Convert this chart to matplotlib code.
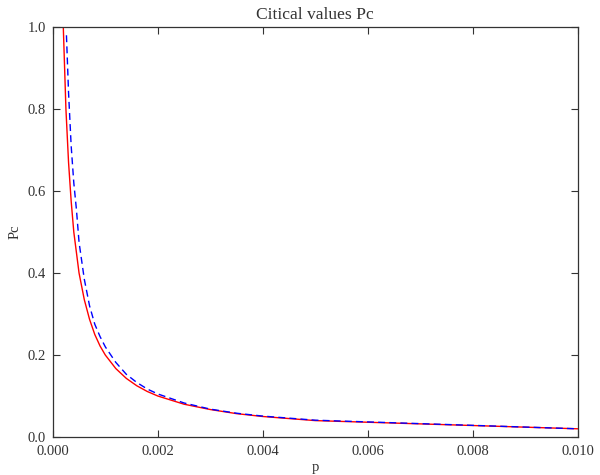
import numpy as np
import matplotlib
matplotlib.use("Agg")
import matplotlib.pyplot as plt
from matplotlib.ticker import FormatStrFormatter

# valores
p_rojo = [0.0002, 0.00025, 0.0003, 0.00035, 0.0004, 0.0005, 0.0006, 0.0007,
          0.0008, 0.0009, 0.001, 0.0012, 0.0014, 0.0016, 0.0018, 0.002,
          0.0025, 0.003, 0.0035, 0.004, 0.005, 0.01]
pc_rojo = [1.0, 0.80, 0.67, 0.575, 0.50, 0.40, 0.335, 0.287,
           0.25, 0.222, 0.20, 0.167, 0.143, 0.125, 0.111, 0.10,
           0.08, 0.067, 0.057, 0.05, 0.04, 0.02]

p_azul = [0.00026, 0.0003, 0.00035, 0.0004, 0.00045, 0.0005, 0.0006, 0.0007,
          0.0008, 0.0009, 0.001, 0.0012, 0.0014, 0.0016, 0.0018, 0.002,
          0.0025, 0.003, 0.0035, 0.004, 0.005, 0.01]
pc_azul = [0.98, 0.84, 0.71, 0.62, 0.555, 0.475, 0.385, 0.32,
           0.275, 0.245, 0.22, 0.182, 0.153, 0.133, 0.117, 0.105,
           0.083, 0.068, 0.058, 0.051, 0.041, 0.02]

plt.rcParams['font.family'] = ['Liberation Serif', 'DejaVu Serif']
plt.rcParams['font.size'] = 10.5

fig = plt.figure(figsize=(6, 4.75), dpi=100)
ax = fig.add_axes([0.088, 0.08, 0.875, 0.863])

ax.plot(p_rojo, pc_rojo, color='red', linewidth=1.0)
ax.plot(p_azul, pc_azul, color='blue', linewidth=1.0, linestyle=(0, (5, 3)))

ax.set_xlim(0, 0.010)
ax.set_ylim(0, 1.0)
ax.set_xticks(np.arange(0, 0.0101, 0.002))
ax.set_yticks(np.arange(0, 1.01, 0.2))
ax.xaxis.set_major_formatter(FormatStrFormatter('%.3f'))
ax.yaxis.set_major_formatter(FormatStrFormatter('%.1f'))
ax.tick_params(direction='in', top=True, right=True, length=5, width=0.8,
               color='#333333', labelcolor='#333333')
ax.tick_params(axis='x', pad=6)
ax.tick_params(axis='y', pad=5)
for s in ax.spines.values():
    s.set_color('#333333')
    s.set_linewidth(0.9)

ax.set_title('Citical values Pc', color='#333333', pad=6)
ax.set_xlabel('p', color='#333333', labelpad=2)
ax.set_ylabel('Pc', color='#333333', labelpad=4)

fig.savefig('out.png', dpi=100)
